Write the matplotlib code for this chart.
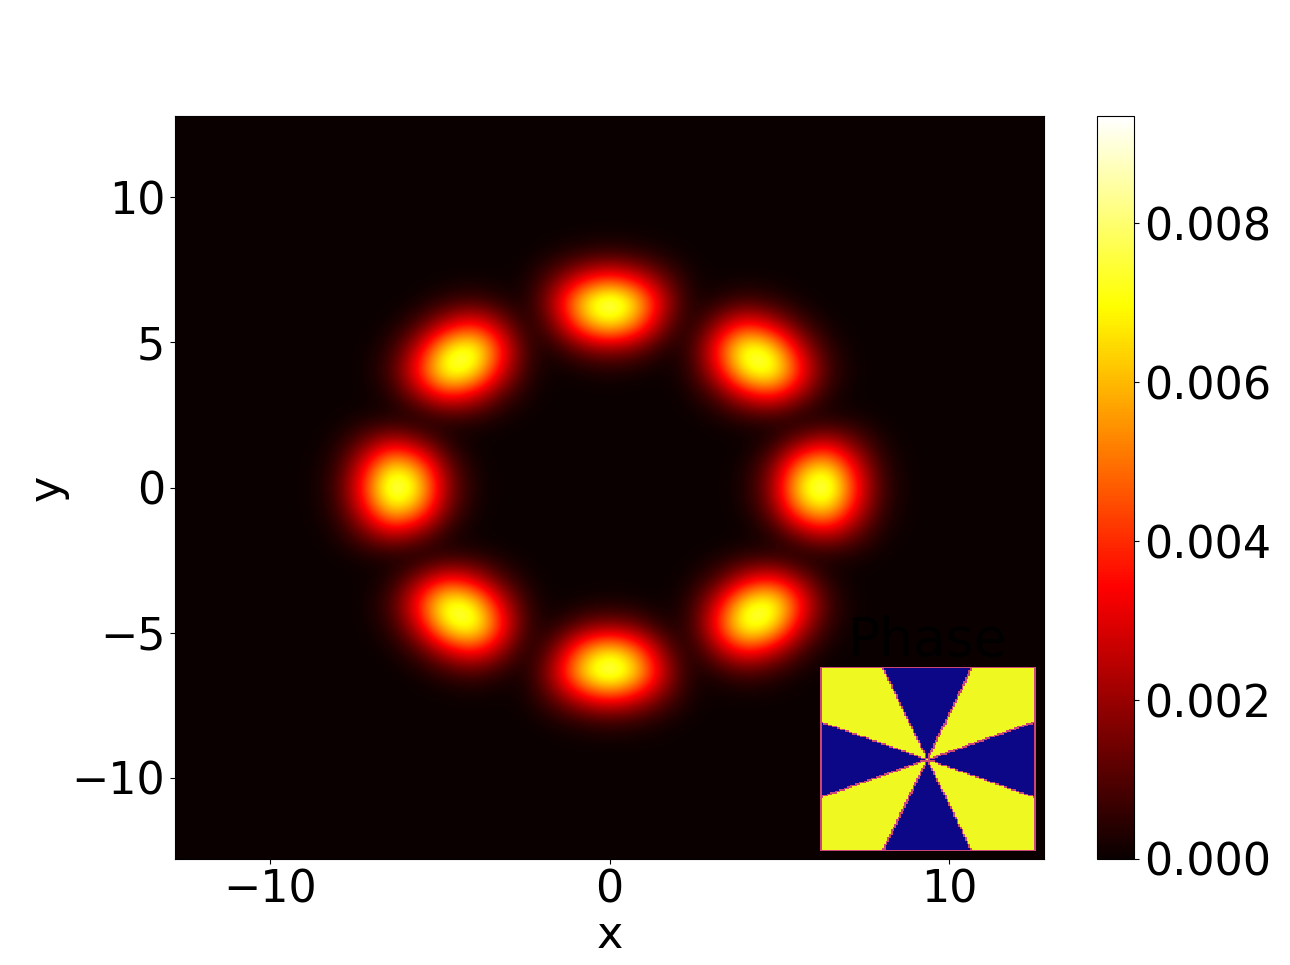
import numpy as np
import matplotlib
matplotlib.use("Agg")
import matplotlib.pyplot as plt

plt.rcParams["font.size"] = 32

# density, 1e-4 units, one quadrant (x >= 0, y >= 0), step 0.8
density_quarter = [
    [0, 0, 0, 0, 0.1, 2, 19, 70, 90, 42, 7, 0.4],
    [0, 0, 0, 0, 0.1, 1.2, 14, 52, 68, 32, 5, 0.3],
    [0, 0, 0, 0, 0, 0, 2.6, 16, 26, 13, 2, 0.1],
    [0, 0, 0, 0.2, 1.4, 4.3, 4.3, 0.2, 1.2, 1.6, 0.3, 0],
    [0.1, 0.1, 0, 1.4, 10, 30, 40, 21, 3.5, 0.1, 0, 0],
    [2, 1.2, 0, 4.3, 30, 73, 81, 40, 8, 0.6, 0, 0],
    [19, 14, 2.6, 4.3, 40, 81, 70, 27.5, 4.9, 0.3, 0, 0],
    [70, 52, 16, 0.2, 21, 40, 27.5, 8.6, 1.1, 0, 0, 0],
    [90, 68, 26, 1.2, 3.5, 8, 4.9, 1.1, 0, 0, 0, 0],
    [42, 32, 13, 1.6, 0.1, 0.6, 0.3, 0, 0, 0, 0, 0],
    [7, 5, 2, 0.3, 0, 0, 0, 0, 0, 0, 0, 0],
    [0.4, 0.3, 0.1, 0, 0, 0, 0, 0, 0, 0, 0, 0],
]
density_step = 0.8
density_max = 0.00935

# phase wedges of the inset: edges in degrees, and the level inside each wedge
wedge_edges = [-157.5, -112.5, -67.5, -22.5, 22.5, 67.5, 112.5, 157.5]
wedge_levels = [-3.14, 3.14, -3.14, 3.14, -3.14, 3.14, -3.14, 3.14, -3.14]
phase_cells = 128
phase_range = 12.8

x_ticks = [-10, 0, 10]
y_ticks = [-10, -5, 0, 5, 10]
cbar_ticks = [0.000, 0.002, 0.004, 0.006, 0.008]

W, H = 1290, 965
fig = plt.figure(figsize=(W / 100, H / 100), dpi=100)


def box(x0, y0, x1, y1):
    return [x0 / W, 1 - y1 / H, (x1 - x0) / W, (y1 - y0) / H]


ax = fig.add_axes(box(175, 116, 1044, 859))

q = np.array(density_quarter) * 1e-4
top = np.hstack([q[:, :0:-1], q])
full = np.vstack([top[:0:-1], top])
full = np.pad(full, 5)
edge = (full.shape[0] - 1) / 2 * density_step + density_step / 2

im = ax.imshow(full, origin="lower", cmap="hot", vmin=0, vmax=density_max,
               extent=[-edge, edge, -edge, edge], aspect="auto", interpolation="bicubic")
ax.set_xlim(-12.8, 12.8)
ax.set_ylim(-12.8, 12.8)
ax.set_xticks(x_ticks)
ax.set_yticks(y_ticks)
ax.set_xlabel("x", labelpad=2)
ax.set_ylabel("y", labelpad=2)

cax = fig.add_axes(box(1097, 116, 1134, 859))
cb = fig.colorbar(im, cax=cax, ticks=cbar_ticks)
cb.ax.set_yticklabels([f"{t:.3f}" for t in cbar_ticks])

# inset with the phase
ins = fig.add_axes(box(820, 667, 1036, 851))
gx, gy = np.meshgrid(np.linspace(-phase_range, phase_range, phase_cells),
                     np.linspace(-phase_range, phase_range, phase_cells))
angle = np.degrees(np.arctan2(gy, gx))
phase = np.array(wedge_levels)[np.digitize(angle, wedge_edges)]
# cells on a wedge border and on the frame come out mid level in the original
border = np.zeros_like(phase, dtype=bool)
border[:-1, :] |= phase[:-1, :] != phase[1:, :]
border[:, :-1] |= phase[:, :-1] != phase[:, 1:]
border[[0, -1], :] = True
border[:, [0, -1]] = True
phase[border] = 0
ins.imshow(phase, origin="lower", cmap="plasma", vmin=-3.14, vmax=3.14,
           aspect="auto", interpolation="nearest")
ins.set_title("Phase", pad=4)
ins.axis("off")

fig.savefig("out.png", dpi=100)
